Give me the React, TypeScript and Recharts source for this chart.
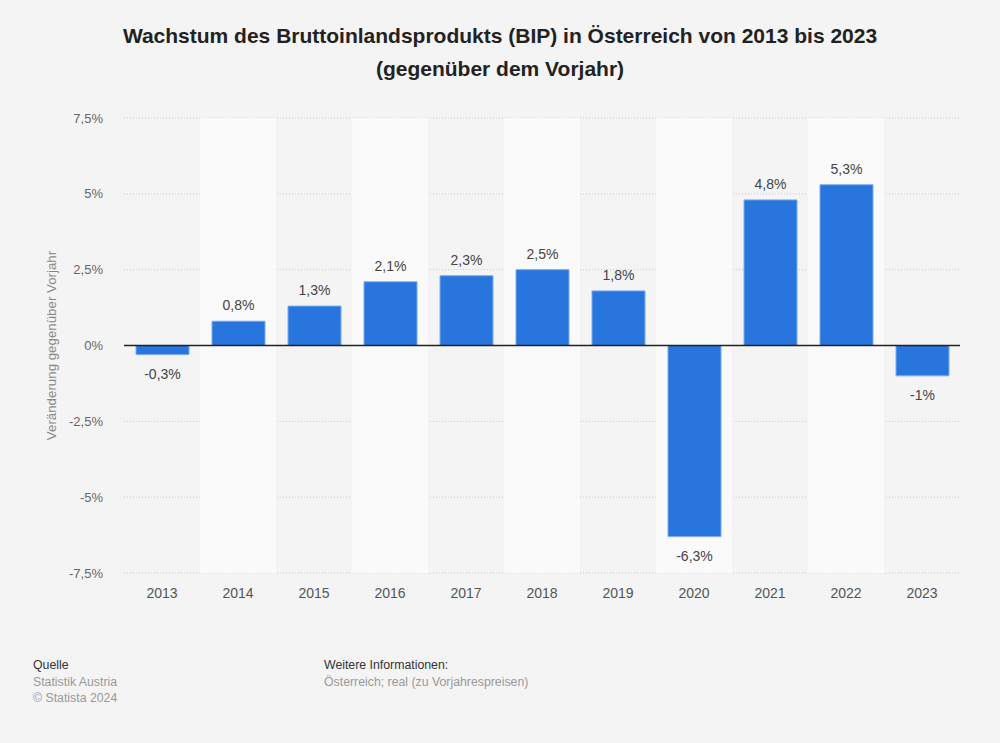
import React from 'react';
import { BarChart, Bar, XAxis, YAxis, CartesianGrid, ReferenceArea, ReferenceLine, LabelList, Label } from 'recharts';

const years = ['2013', '2014', '2015', '2016', '2017', '2018', '2019', '2020', '2021', '2022', '2023'];
const growth = [-0.3, 0.8, 1.3, 2.1, 2.3, 2.5, 1.8, -6.3, 4.8, 5.3, -1.0];
const yTicks = [-7.5, -5, -2.5, 0, 2.5, 5, 7.5];

const data = years.map((y, i) => ({ year: y, value: growth[i] }));

const fmt = (v: number) => String(v).replace('.', ',') + '%';

const ValueLabel = (props: any) => {
  const { x, y, width, height, value } = props;
  const cx = x + width / 2;
  const neg = value < 0;
  const top = Math.min(y, y + height);
  const bottom = Math.max(y, y + height);
  const ty = neg ? bottom + 24 : top - 11;
  return (
    <text x={cx} y={ty} textAnchor="middle" fontSize={14} fill="#444" fontFamily="'Liberation Sans', Arial, sans-serif">
      {fmt(value)}
    </text>
  );
};

const YLabel = (props: any) => {
  const vb = props.viewBox || {};
  const cy = (vb.y || 0) + (vb.height || 0) / 2;
  const cx = 56;
  return (
    <text x={cx} y={cy} transform={`rotate(-90, ${cx}, ${cy})`} textAnchor="middle" fontSize={13.3} fill="#888" fontFamily="'Liberation Sans', Arial, sans-serif">
      Veränderung gegenüber Vorjahr
    </text>
  );
};

export default function App() {
  const font = "'Liberation Sans', Arial, sans-serif";
  return (
    <div style={{ position: 'absolute', left: 0, top: 0, width: 1000, height: 743, background: '#f4f4f4', fontFamily: font, overflow: 'hidden' }}>
      <div style={{ position: 'absolute', top: 19, left: 0, width: 1000, textAlign: 'center', fontWeight: 'bold', fontSize: 21, lineHeight: '33px', color: '#222' }}>
        Wachstum des Bruttoinlandsprodukts (BIP) in Österreich von 2013 bis 2023<br />(gegenüber dem Vorjahr)
      </div>
      <div style={{ position: 'absolute', left: 0, top: 0 }}>
        <BarChart width={1000} height={743} data={data} margin={{ top: 118, right: 40, bottom: 140, left: 0 }}>
          {years.map((y, i) => (i % 2 === 1 ? (
            <ReferenceArea key={y} x1={y} x2={y} y1={-7.5} y2={7.5} fill="#fafafa" fillOpacity={1} stroke="none" ifOverflow="extendDomain" />
          ) : null))}
          <CartesianGrid vertical={false} stroke="#c8c8c8" strokeDasharray="1 2" />
          <XAxis dataKey="year" axisLine={false} tickLine={false} tickSize={0} tickMargin={15} height={30} tick={{ fontSize: 14, fill: '#555', fontFamily: font }} interval={0} />
          <YAxis domain={[-7.5, 7.5]} ticks={yTicks} width={124} axisLine={false} tickLine={false} tickSize={0} tickMargin={21} tickFormatter={fmt} tick={{ fontSize: 13, fill: '#666', fontFamily: font }}>
            <Label content={<YLabel />} />
          </YAxis>
          <Bar dataKey="value" fill="#2876dd" stroke="#7aaaf0" strokeWidth={1} barSize={53} isAnimationActive={false}>
            <LabelList dataKey="value" content={<ValueLabel />} />
          </Bar>
          <ReferenceLine y={0} stroke="#222" strokeWidth={1.5} />
        </BarChart>
      </div>
      <div style={{ position: 'absolute', left: 33, top: 657, fontSize: 12.3, lineHeight: '16.5px' }}>
        <div style={{ color: '#333' }}>Quelle</div>
        <div style={{ color: '#999' }}>Statistik Austria</div>
        <div style={{ color: '#999' }}>© Statista 2024</div>
      </div>
      <div style={{ position: 'absolute', left: 324, top: 657, fontSize: 12.3, lineHeight: '16.5px' }}>
        <div style={{ color: '#333' }}>Weitere Informationen:</div>
        <div style={{ color: '#999' }}>Österreich; real (zu Vorjahrespreisen)</div>
      </div>
    </div>
  );
}
